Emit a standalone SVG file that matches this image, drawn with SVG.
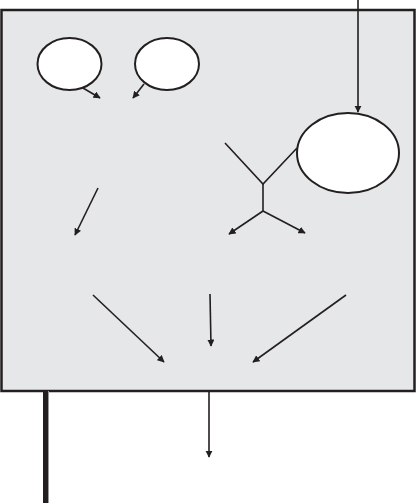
<svg xmlns="http://www.w3.org/2000/svg" width="417" height="503" viewBox="0 0 417 503">
<style>
.n{fill:#fff;stroke:#231f20;stroke-width:2}
.c{fill:none;stroke:#231f20;stroke-width:1.6}
</style>
<defs>
<marker id="a" viewBox="0 0 10 10" refX="9" refY="5" markerWidth="4.5" markerHeight="4.5" orient="auto" markerUnits="strokeWidth">
<path d="M0,0 L10,5 L0,10 z" fill="#231f20"/>
</marker>
</defs>
<rect x="1.5" y="10" width="413" height="381" fill="#e6e7e8" stroke="#231f20" stroke-width="2.5"/>
<rect x="43" y="391" width="5" height="112" fill="#231f20"/>
<rect x="48" y="391" width="1" height="112" fill="#9a9a9a"/>
<g id="n1"><ellipse class="n" cx="69.5" cy="64" rx="32" ry="26"/></g>
<g id="n2"><ellipse class="n" cx="167" cy="64" rx="32" ry="26"/></g>
<g id="n3"><ellipse class="n" cx="348" cy="153" rx="51" ry="40"/></g>
<g id="connectors">
<line class="c" x1="358" y1="0" x2="358" y2="112" marker-end="url(#a)"/>
<line class="c" x1="83" y1="88" x2="100" y2="98" marker-end="url(#a)"/>
<line class="c" x1="144" y1="84" x2="133" y2="98" marker-end="url(#a)"/>
<polyline class="c" points="225,143 263,184 297,148"/>
<line class="c" x1="263" y1="184" x2="263" y2="211"/>
<line class="c" x1="263" y1="211" x2="229" y2="234" marker-end="url(#a)"/>
<line class="c" x1="263" y1="211" x2="305" y2="233" marker-end="url(#a)"/>
<line class="c" x1="98" y1="188" x2="75" y2="235" marker-end="url(#a)"/>
<line class="c" x1="93" y1="295" x2="164" y2="362" marker-end="url(#a)"/>
<line class="c" x1="210" y1="294" x2="211" y2="346" marker-end="url(#a)"/>
<line class="c" x1="346" y1="295" x2="253" y2="362" marker-end="url(#a)"/>
<line class="c" x1="209" y1="391" x2="209" y2="457" stroke-width="1.2" marker-end="url(#a)"/>
</g>
</svg>
